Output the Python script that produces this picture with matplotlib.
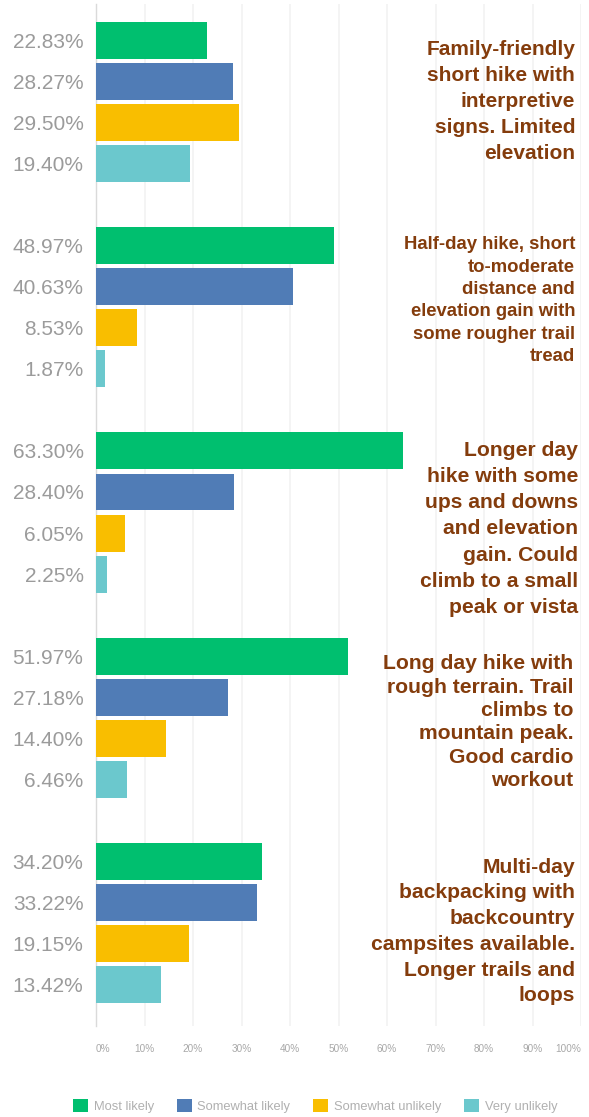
import matplotlib
matplotlib.use("Agg")
import matplotlib.pyplot as plt
from matplotlib.patches import Patch
import numpy as np

# ---- data ----
categories = [
    "Family-friendly\nshort hike with\ninterpretive\nsigns. Limited\nelevation",
    "Half-day hike, short\nto-moderate\ndistance and\nelevation gain with\nsome rougher trail\ntread",
    "Longer day\nhike with some\nups and downs\nand elevation\ngain. Could\nclimb to a small\npeak or vista",
    "Long day hike with\nrough terrain. Trail\nclimbs to\nmountain peak.\nGood cardio\nworkout",
    "Multi-day\nbackpacking with\nbackcountry\ncampsites available.\nLonger trails and\nloops",
]
series_names = ["Most likely", "Somewhat likely", "Somewhat unlikely", "Very unlikely"]
most_likely = [22.83, 48.97, 63.30, 51.97, 34.20]
somewhat_likely = [28.27, 40.63, 28.40, 27.18, 33.22]
somewhat_unlikely = [29.50, 8.53, 6.05, 14.40, 19.15]
very_unlikely = [19.40, 1.87, 2.25, 6.46, 13.42]
x_ticks = [0, 10, 20, 30, 40, 50, 60, 70, 80, 90, 100]
x_tick_labels = ["0%", "10%", "20%", "30%", "40%", "50%", "60%", "70%", "80%", "90%", "100%"]

# ---- style ----
colors = ["#00BF6F", "#507CB6", "#F9BE00", "#6BC8CD"]
label_color = "#843C0C"
value_color = "#9B9B9B"
plt.rcParams["font.family"] = ["Liberation Sans", "DejaVu Sans"]

fig = plt.figure(figsize=(5.89, 11.17), dpi=100)
ax = fig.add_axes([96 / 589, 1 - 1026 / 1117, (581 - 96) / 589, (1026 - 4) / 1117])

series = [most_likely, somewhat_likely, somewhat_unlikely, very_unlikely]
n_groups = len(categories)
slots = 5
ypos_all, labels_all = [], []
for s, vals in enumerate(series):
    y = np.arange(n_groups) * slots + s
    ax.barh(y, vals, height=0.9, color=colors[s], edgecolor="none", zorder=3)
    ypos_all.extend(y)
    labels_all.extend([f"{v:.2f}%" for v in vals])

ax.set_yticks(ypos_all)
ax.set_yticklabels(labels_all, fontsize=15, color=value_color)
ax.tick_params(axis="y", length=0, pad=9)

ax.set_ylim(24.0, -0.88)
ax.set_xlim(0, 100)
ax.set_xticks(x_ticks)
ax.set_xticklabels(x_tick_labels, fontsize=7.2, color="#A8A8A8")
ax.tick_params(axis="x", length=0, pad=13)
xl = ax.get_xticklabels()
xl[0].set_ha("left")
xl[-1].set_ha("right")

ax.grid(axis="x", color="#F2F2F2", linewidth=1.2, zorder=0)
for sp in ["top", "right", "bottom"]:
    ax.spines[sp].set_visible(False)
ax.spines["left"].set_color("#DADADA")
ax.spines["left"].set_linewidth(1)

# category annotations (text layout)
text_style = [
    dict(x=98.8, dy=1.49, size=15.0, ls=1.46),
    dict(x=98.8, dy=1.34, size=13.3, ls=1.41),
    dict(x=99.4, dy=1.90, size=15.2, ls=1.47),
    dict(x=98.4, dy=1.60, size=15.2, ls=1.29),
    dict(x=98.8, dy=1.70, size=15.2, ls=1.45),
]
for g, (cat, st) in enumerate(zip(categories, text_style)):
    ax.text(st["x"], g * slots + st["dy"], cat, ha="right", va="center",
            multialignment="right", fontsize=st["size"], fontweight="bold",
            color=label_color, linespacing=st["ls"], zorder=4)

handles = [Patch(facecolor=c, edgecolor="none") for c in colors]
fig.legend(handles, series_names, loc="center left", ncol=4,
           bbox_to_anchor=(73 / 589, 1 - 1106 / 1117), frameon=False,
           fontsize=9.3, labelcolor="#B0B0B0", handlelength=1.16, handleheight=1.16,
           handletextpad=0.45, columnspacing=1.75, borderpad=0, borderaxespad=0)

fig.savefig("out.png", dpi=100)
